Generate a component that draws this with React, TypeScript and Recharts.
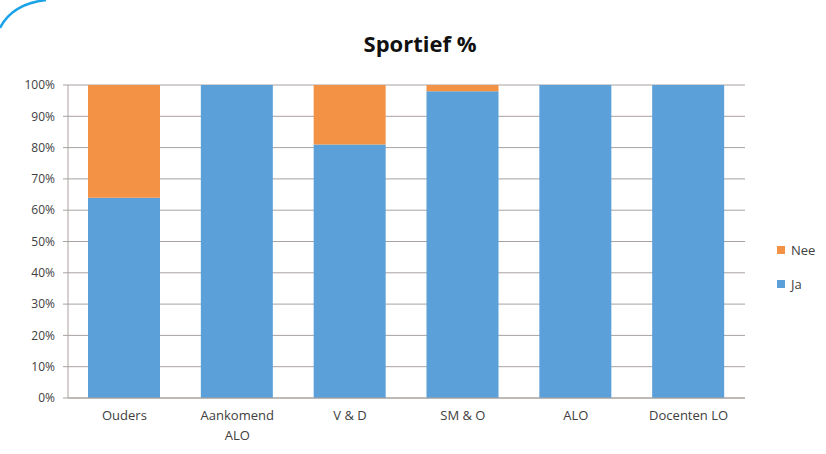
import React from 'react';
import { BarChart, Bar, XAxis, YAxis, CartesianGrid } from 'recharts';

const categories = ['Ouders', 'Aankomend ALO', 'V & D', 'SM & O', 'ALO', 'Docenten LO'];
const jaValues = [64, 100, 81, 98, 100, 100];
const neeValues = [36, 0, 19, 2, 0, 0];
const yTicks = [0, 10, 20, 30, 40, 50, 60, 70, 80, 90, 100];

const data = categories.map((name, i) => ({ name, Ja: jaValues[i], Nee: neeValues[i] }));

const FONT = '"Open Sans", "Noto Sans", sans-serif';
const TEXT = '#404040';
const BLUE = '#5BA0D8';
const ORANGE = '#F39244';

function CategoryTick(props: any) {
    const { x, y, payload } = props;
    const label: string = payload.value;
    // long labels break onto a second line like in Excel
    const lines = label.length > 12 ? label.split(' ') : [label];
    return (
        <text x={x} y={y + 14} textAnchor="middle" fill={TEXT} fontSize={13} fontFamily={FONT}>
            {lines.map((l, i) => (
                <tspan key={i} x={x} dy={i === 0 ? 0 : 20}>
                    {l}
                </tspan>
            ))}
        </text>
    );
}

function LegendBox() {
    const items = [
        { name: 'Nee', color: ORANGE },
        { name: 'Ja', color: BLUE },
    ];
    return (
        <div style={{ position: 'absolute', left: 777, top: 233, fontFamily: FONT, fontSize: 13, color: TEXT }}>
            {items.map((it) => (
                <div key={it.name} style={{ display: 'flex', alignItems: 'center', height: 34 }}>
                    <span style={{ width: 8, height: 8, background: it.color, marginRight: 6 }} />
                    {it.name}
                </div>
            ))}
        </div>
    );
}

export default function App() {
    return (
        <div style={{ position: 'absolute', left: 0, top: 0, width: 826, height: 454, background: '#fff' }}>
            <svg width={60} height={40} style={{ position: 'absolute', left: 0, top: 0 }}>
                <path d="M 0 28 Q 12 4 46 0" stroke="#1AA3E8" strokeWidth={2.5} fill="none" />
            </svg>
            <div
                style={{
                    position: 'absolute',
                    top: 28,
                    left: 0,
                    width: 826,
                    textAlign: 'center',
                    fontFamily: FONT,
                    fontWeight: 700,
                    fontSize: 22,
                    color: '#111',
                    paddingLeft: 14,
                    boxSizing: 'border-box',
                }}
            >
                Sportief %
            </div>
            <BarChart
                width={826}
                height={454}
                data={data}
                margin={{ top: 85, right: 81, bottom: 16, left: 8 }}
                barSize={72}
            >
                <CartesianGrid vertical={false} stroke="#a8a2a0" />
                <XAxis
                    dataKey="name"
                    tick={<CategoryTick />}
                    tickLine={false}
                    axisLine={{ stroke: '#a8a2a0' }}
                    height={40}
                    interval={0}
                />
                <YAxis
                    width={60}
                    domain={[0, 100]}
                    ticks={yTicks}
                    tickFormatter={(v) => `${v}%`}
                    tick={{ fill: TEXT, fontSize: 12, fontFamily: FONT, dx: -6 }}
                    tickLine={{ stroke: '#a8a2a0' }}
                    tickSize={5}
                    axisLine={{ stroke: '#a8a2a0' }}
                />
                <Bar dataKey="Ja" stackId="a" fill={BLUE} isAnimationActive={false} />
                <Bar dataKey="Nee" stackId="a" fill={ORANGE} isAnimationActive={false} />
            </BarChart>
            <LegendBox />
        </div>
    );
}
